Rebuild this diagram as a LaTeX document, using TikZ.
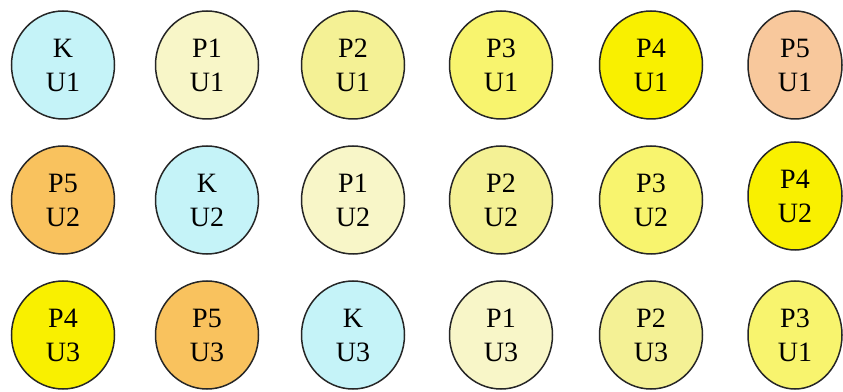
\documentclass[tikz,border=0pt]{standalone}
\usepackage{fontspec}
\setmainfont{Liberation Serif}
\usepackage{xcolor}
\usepackage{tikz}
\usetikzlibrary{shapes.geometric}

\definecolor{kcyan}{HTML}{C5F3F8}
\definecolor{pone}{HTML}{F8F6C8}
\definecolor{ptwo}{HTML}{F4F195}
\definecolor{pthree}{HTML}{F8F46E}
\definecolor{pfour}{HTML}{F9F000}
\definecolor{pfivelight}{HTML}{F8C89C}
\definecolor{pfive}{HTML}{F9C25E}

\begin{document}
\begin{tikzpicture}[x=1pt, y=1pt,
    plot/.style={ellipse, draw=black!85, line width=1.5pt, minimum width=103pt,
        minimum height=108pt, inner sep=0pt, align=center,
        font=\fontsize{28}{34}\selectfont},
    edge/.style={plot, minimum width=94pt}]

\useasboundingbox (0,0) rectangle (843,391);

% Row 1 (U1)
\node[plot, fill=kcyan] (r1c1) at (63,326) {K\\U1};
\node[plot, fill=pone] (r1c2) at (207,326) {P1\\U1};
\node[plot, fill=ptwo] (r1c3) at (353,326) {P2\\U1};
\node[plot, fill=pthree] (r1c4) at (501,326) {P3\\U1};
\node[plot, fill=pfour] (r1c5) at (651,326) {P4\\U1};
\node[edge, fill=pfivelight] (r1c6) at (795,326) {P5\\U1};

% Row 2 (U2)
\node[plot, fill=pfive] (r2c1) at (63,191) {P5\\U2};
\node[plot, fill=kcyan] (r2c2) at (207,191) {K\\U2};
\node[plot, fill=pone] (r2c3) at (353,191) {P1\\U2};
\node[plot, fill=ptwo] (r2c4) at (501,191) {P2\\U2};
\node[plot, fill=pthree] (r2c5) at (651,191) {P3\\U2};
\node[edge, fill=pfour] (r2c6) at (795,195) {P4\\U2};

% Row 3 (U3)
\node[plot, fill=pfour] (r3c1) at (63,56) {P4\\U3};
\node[plot, fill=pfive] (r3c2) at (207,56) {P5\\U3};
\node[plot, fill=kcyan] (r3c3) at (353,56) {K\\U3};
\node[plot, fill=pone] (r3c4) at (501,56) {P1\\U3};
\node[plot, fill=ptwo] (r3c5) at (651,56) {P2\\U3};
\node[edge, fill=pthree] (r3c6) at (795,56) {P3\\U1};

\end{tikzpicture}
\end{document}
